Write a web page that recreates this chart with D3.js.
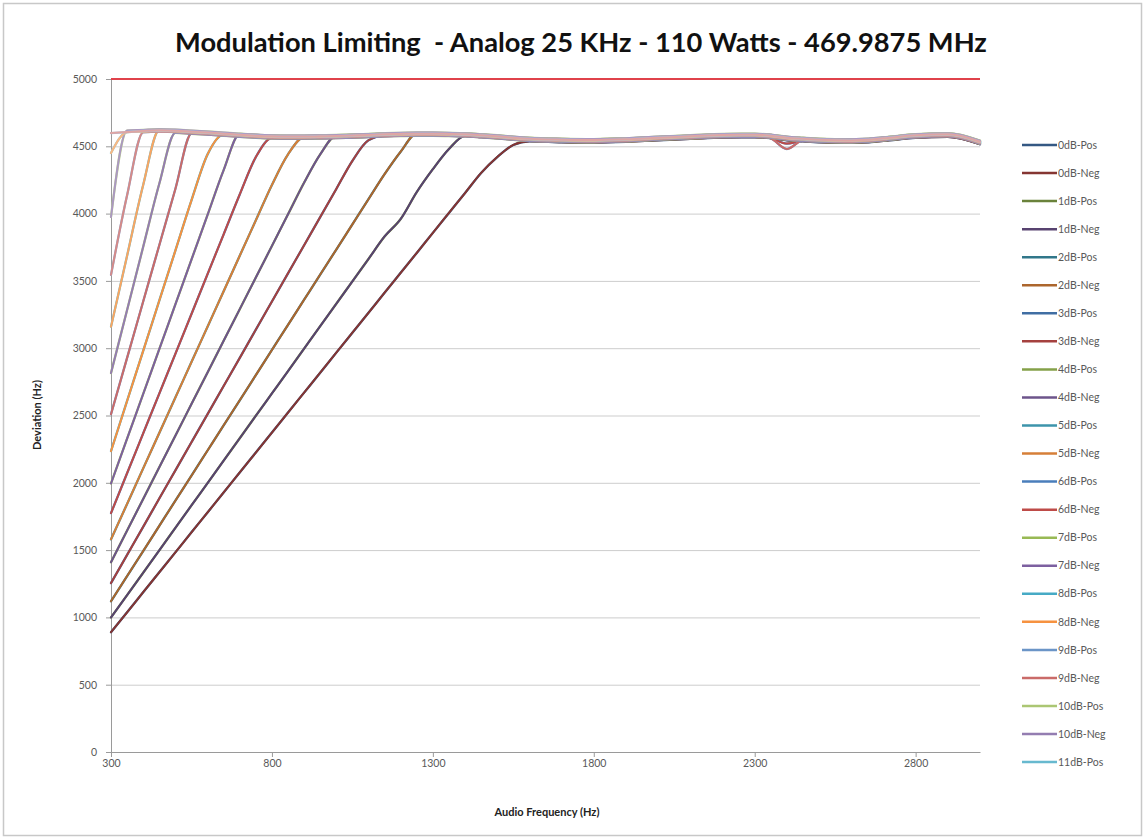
<!DOCTYPE html>
<html><head><meta charset="utf-8">
<script src="https://cdn.jsdelivr.net/npm/d3@7"></script>
<style>
body{margin:0;background:#fff;}
svg{display:block;}
text{font-family:Lato,"Open Sans","DejaVu Sans",sans-serif;}
</style>
</head><body>
<svg id="chart" width="1145" height="840"></svg>
<script>
// ---------------- DATA ----------------
const titleText = "Modulation Limiting  - Analog 25 KHz - 110 Watts - 469.9875 MHz";
const xTitle = "Audio Frequency (Hz)";
const yTitle = "Deviation (Hz)";

const freqs = [300,350,400,450,500,550,600,650,700,750,800,850,900,950,1000,1050,1100,1150,1200,1250,1300,1350,1400,1450,1500,1550,1600,1700,1800,1900,2000,2100,2200,2300,2350,2400,2450,2500,2600,2700,2800,2900,3000];

const dev0dB  = [890,1038,1187,1335,1483,1632,1780,1928,2077,2225,2373,2522,2670,2818,2967,3115,3263,3412,3560,3708,3857,4005,4153,4302,4420,4510,4537,4530,4527,4533,4545,4555,4565,4567,4560,4545,4537,4530,4525,4540,4563,4570,4515];
const dev1dB  = [1000,1165,1332,1498,1665,1832,1998,2165,2331,2498,2664,2830,2997,3164,3330,3497,3663,3830,3960,4160,4330,4480,4577,4570,4562,4552,4544,4537,4534,4540,4552,4562,4572,4574,4567,4552,4544,4537,4532,4547,4570,4577,4522];
const dev2dB  = [1120,1307,1493,1680,1867,2053,2240,2427,2613,2800,2987,3173,3360,3547,3733,3920,4107,4293,4460,4595,4595,4593,4590,4583,4575,4565,4557,4550,4547,4553,4565,4575,4585,4587,4580,4565,4557,4550,4545,4560,4583,4590,4535];
const dev3dB  = [1255,1464,1673,1883,2092,2301,2510,2719,2928,3138,3347,3556,3765,3974,4183,4392,4545,4580,4583,4585,4585,4583,4580,4573,4565,4555,4547,4540,4537,4543,4555,4565,4575,4577,4570,4555,4547,4540,4535,4550,4573,4580,4525];
const dev4dB  = [1410,1645,1880,2115,2350,2585,2820,3055,3290,3525,3760,3995,4230,4440,4580,4584,4588,4593,4596,4598,4598,4596,4593,4586,4578,4568,4560,4553,4550,4556,4568,4578,4588,4590,4583,4568,4560,4553,4548,4563,4586,4593,4538];
const dev5dB  = [1580,1843,2107,2370,2633,2897,3160,3423,3687,3950,4213,4440,4568,4570,4572,4576,4580,4585,4588,4590,4590,4588,4585,4578,4570,4560,4552,4545,4542,4548,4560,4570,4580,4582,4575,4560,4552,4545,4540,4555,4578,4585,4530];
const dev6dB  = [1775,2071,2367,2663,2958,3254,3550,3846,4142,4420,4560,4558,4558,4560,4562,4566,4570,4575,4578,4580,4580,4578,4575,4568,4560,4550,4542,4535,4532,4538,4550,4560,4570,4572,4560,4520,4540,4535,4530,4545,4568,4575,4520];
const dev7dB  = [1995,2328,2660,2993,3325,3658,3990,4323,4592,4585,4580,4578,4578,4580,4582,4586,4590,4595,4598,4600,4600,4598,4595,4588,4580,4570,4562,4555,4552,4558,4570,4580,4590,4592,4585,4570,4562,4555,4550,4565,4588,4595,4540];
const dev8dB  = [2235,2608,2980,3353,3725,4098,4440,4587,4579,4572,4567,4565,4565,4567,4569,4573,4577,4582,4585,4587,4587,4585,4582,4575,4567,4557,4549,4542,4539,4545,4557,4567,4577,4579,4572,4557,4549,4542,4537,4552,4575,4582,4527];
const dev9dB  = [2510,2928,3347,3765,4183,4595,4601,4593,4585,4578,4573,4571,4571,4573,4575,4579,4583,4588,4591,4593,4593,4591,4588,4581,4573,4563,4555,4548,4545,4551,4563,4573,4583,4585,4560,4480,4545,4548,4543,4558,4581,4588,4533];
const dev10dB = [2815,3284,3753,4222,4600,4593,4586,4578,4570,4563,4558,4556,4556,4558,4560,4564,4568,4573,4576,4578,4578,4576,4573,4566,4558,4548,4540,4533,4530,4536,4548,4558,4568,4570,4563,4548,4540,4533,4528,4543,4566,4573,4518];
const dev11dB = [3160,3687,4213,4621,4618,4611,4604,4596,4588,4581,4576,4574,4574,4576,4578,4582,4586,4591,4594,4596,4596,4594,4591,4584,4576,4566,4558,4551,4548,4554,4566,4576,4586,4588,4581,4566,4558,4551,4546,4561,4584,4591,4536];
const dev12dB = [3545,4136,4604,4609,4606,4599,4592,4584,4576,4569,4564,4562,4562,4564,4566,4570,4574,4579,4582,4584,4584,4582,4579,4572,4564,4554,4546,4539,4536,4542,4554,4564,4574,4576,4569,4554,4546,4539,4534,4549,4572,4579,4524];
const dev13dB = [3975,4617,4622,4627,4624,4617,4610,4602,4594,4587,4582,4580,4580,4582,4584,4588,4592,4597,4600,4602,4602,4600,4597,4590,4582,4572,4564,4557,4554,4560,4572,4582,4592,4594,4587,4572,4564,4557,4552,4567,4590,4597,4542];
const dev14dB = [4450,4605,4610,4615,4612,4605,4598,4590,4582,4575,4570,4568,4568,4570,4572,4576,4580,4585,4588,4590,4590,4588,4585,4578,4570,4560,4552,4545,4542,4548,4560,4570,4580,4582,4575,4560,4552,4545,4540,4555,4578,4585,4530];
const dev15dB = [4598,4606,4614,4619,4616,4609,4602,4594,4586,4579,4574,4572,4572,4574,4576,4580,4584,4589,4592,4594,4594,4592,4589,4582,4574,4564,4556,4549,4546,4552,4564,4574,4584,4586,4579,4564,4556,4549,4544,4559,4582,4589,4534];

const levelNames = ["0dB","1dB","2dB","3dB","4dB","5dB","6dB","7dB","8dB","9dB","10dB","11dB","12dB","13dB","14dB","15dB"];
const levelValues = [dev0dB,dev1dB,dev2dB,dev3dB,dev4dB,dev5dB,dev6dB,dev7dB,dev8dB,dev9dB,dev10dB,dev11dB,dev12dB,dev13dB,dev14dB,dev15dB];
const polarities = ["Pos","Neg"];

const limitFreqs = [300,3000];
const limitValues = [5000,5000];

const xTicks = [300,800,1300,1800,2300,2800];
const yTicks = [0,500,1000,1500,2000,2500,3000,3500,4000,4500,5000];

// ---------------- STYLE ----------------
const basePalette = ["#4A7EBB","#BE4B48","#98B954","#7D60A0","#46AAC5","#F69240"];
const groupMods = [-0.30,-0.13,0,0.18,0.35,0.5]; // negative = shade, positive = tint
function seriesColor(i){
  const c = d3.rgb(basePalette[i % 6]);
  const m = groupMods[Math.min(Math.floor(i/6), groupMods.length-1)];
  const f = v => m < 0 ? v*(1+m) : v + (255-v)*m;
  return d3.rgb(f(c.r), f(c.g), f(c.b)).formatHex();
}

// build series table
const series = [];
levelNames.forEach((ln, li) => {
  polarities.forEach(p => {
    series.push({name: ln + "-" + p, pol: p,
      points: freqs.map((f, k) => ({f: f, v: levelValues[li][k]}))});
  });
});
series.forEach((s, i) => s.color = seriesColor(i));

// ---------------- DRAW ----------------
const svg = d3.select("#chart");
svg.append("rect").attr("x",0).attr("y",0).attr("width",1145).attr("height",840).attr("fill","#fff");
svg.append("rect").attr("x",3.5).attr("y",3.5).attr("width",1138).attr("height",832)
   .attr("fill","none").attr("stroke","#C8C8C8").attr("stroke-width",1.5);

const L = 111, R = 980, T = 79, B = 752;
const x = d3.scaleLinear().domain([300,3000]).range([L,R]);
const y = d3.scaleLinear().domain([0,5000]).range([B,T]);

// gridlines
svg.append("g").attr("transform",`translate(${L},0)`)
  .call(d3.axisLeft(y).tickValues(yTicks).tickSize(-(R-L)).tickFormat(""))
  .call(g => g.select(".domain").remove())
  .call(g => g.selectAll("line").attr("stroke","#CDCDCD").attr("stroke-width",1));

// y axis
const ya = svg.append("g").attr("transform",`translate(${L},0)`)
  .call(d3.axisLeft(y).tickValues(yTicks).tickSize(5).tickSizeOuter(0).tickPadding(9).tickFormat(d3.format("d")));
ya.select(".domain").attr("stroke","#9A9A9A");
ya.selectAll("line").attr("stroke","#9A9A9A");
ya.selectAll("text").attr("fill","#595959").style("font-size","10.5px").style("font-family","Lato");

// x axis
const xa = svg.append("g").attr("transform",`translate(0,${B})`)
  .call(d3.axisBottom(x).tickValues(xTicks).tickSize(5).tickSizeOuter(0).tickPadding(3).tickFormat(d3.format("d")));
xa.select(".domain").attr("stroke","#9A9A9A");
xa.selectAll("line").attr("stroke","#9A9A9A");
xa.selectAll("text").attr("fill","#595959").style("font-size","10.5px").style("font-family","Lato");

// lines
const line = d3.line().x(d => x(d.f)).y(d => y(d.v)).curve(d3.curveMonotoneX);
const lg = svg.append("g");
series.forEach(s => {
  lg.append("path").datum(s.points)
    .attr("d", line).attr("fill","none")
    .attr("stroke", s.color)
    .attr("stroke-width", s.pol === "Pos" ? 2.3 : 2)
    .attr("stroke-linejoin","round").attr("stroke-linecap","round");
});

// limit line
svg.append("path").datum(limitFreqs.map((f,k)=>({f:f, v:limitValues[k]})))
  .attr("d", d3.line().x(d=>x(d.f)).y(d=>y(d.v)))
  .attr("fill","none").attr("stroke","#E0424B").attr("stroke-width",2);

// title
const tt = svg.append("text").attr("x",581).attr("y",52).attr("text-anchor","middle")
  .style("white-space","pre").attr("xml:space","preserve")
  .style("font-weight","bold").style("font-size","22px").attr("fill","#111")
  .text(titleText);
const tl = tt.node().getComputedTextLength();
tt.style("font-size", (22*812/tl).toFixed(2) + "px");

// axis titles
svg.append("text").attr("x",547).attr("y",816).attr("text-anchor","middle")
  .style("font-weight","bold").style("font-size","11px").attr("fill","#222").text(xTitle);
svg.append("text").attr("transform","translate(41,415) rotate(-90)").attr("text-anchor","middle")
  .style("font-weight","bold").style("font-size","11px").attr("fill","#222").text(yTitle);

// legend (truncated like the reference)
const legTop = 145, legStep = 28.05;
series.forEach((s, k) => {
  const ly = legTop + k*legStep;
  if (ly > 770) return;
  svg.append("line").attr("x1",1022).attr("x2",1057).attr("y1",ly).attr("y2",ly)
    .attr("stroke", s.color).attr("stroke-width",2.5);
  svg.append("text").attr("x",1058).attr("y",ly).attr("dy","0.35em")
    .style("font-size","10.5px").attr("fill","#595959").text(s.name);
});
</script>
</body></html>
